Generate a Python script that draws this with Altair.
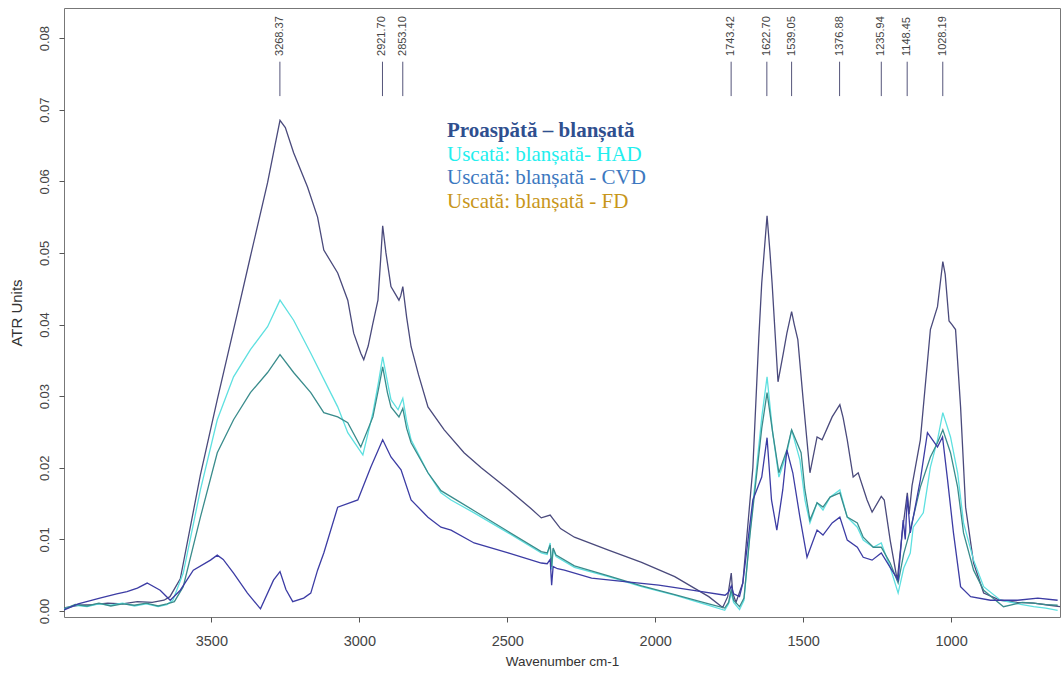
import altair as alt
import pandas as pd

# ---- spectra: wavenumber (cm-1) and absorbance (ATR units) per sample ----
fresh_wn = [4000, 3950, 3900, 3850, 3800, 3750, 3700, 3660, 3640, 3605, 3537, 3480, 3412, 3368,
            3310, 3285, 3268, 3250, 3222, 3175, 3141, 3120, 3073, 3039, 3019, 2995, 2985, 2970,
            2955, 2937, 2928, 2921, 2910, 2893, 2866, 2860, 2853, 2840, 2825, 2800, 2768, 2713,
            2646, 2588, 2497, 2420, 2385, 2355, 2344, 2320, 2273, 2158, 2046, 1934, 1819, 1772,
            1755, 1743, 1738, 1727, 1704, 1670, 1650, 1640, 1622, 1612, 1605, 1585, 1567, 1555,
            1539, 1530, 1518, 1500, 1477, 1453, 1436, 1402, 1376, 1365, 1351, 1331, 1314, 1284,
            1267, 1236, 1226, 1206, 1182, 1165, 1148, 1142, 1132, 1104, 1070, 1046, 1028, 1020,
            1007, 997, 985, 968, 951, 924, 890, 833, 777, 721, 667, 632]
fresh_val = [0.0004, 0.0008, 0.0009, 0.0011, 0.0010, 0.0013, 0.0012, 0.0015, 0.0020, 0.0045,
             0.0190, 0.0295, 0.0416, 0.0495, 0.0598, 0.0650, 0.0685, 0.0675, 0.0640, 0.0592,
             0.0550, 0.0504, 0.0472, 0.0434, 0.0388, 0.0360, 0.0351, 0.0370, 0.0400, 0.0434,
             0.0490, 0.0538, 0.0500, 0.0453, 0.0434, 0.0440, 0.0453, 0.0410, 0.0369, 0.0330,
             0.0285, 0.0253, 0.0221, 0.0200, 0.0170, 0.0143, 0.0130, 0.0134, 0.0128, 0.0115,
             0.0103, 0.0085, 0.0068, 0.0048, 0.0020, 0.0005, 0.0020, 0.0053, 0.0025, 0.0012,
             0.0039, 0.0200, 0.0380, 0.0458, 0.0552, 0.0500, 0.0458, 0.0320, 0.0360, 0.0388,
             0.0418, 0.0400, 0.0379, 0.0295, 0.0193, 0.0243, 0.0239, 0.0271, 0.0288, 0.0270,
             0.0239, 0.0187, 0.0193, 0.0155, 0.0138, 0.0160, 0.0155, 0.0099, 0.0043, 0.0110,
             0.0165, 0.0135, 0.0175, 0.0239, 0.0393, 0.0425, 0.0488, 0.0470, 0.0405, 0.0400,
             0.0393, 0.0285, 0.0145, 0.0067, 0.0025, 0.0015, 0.0012, 0.0011, 0.0008, 0.0006]

had_wn = [4000, 3960, 3920, 3880, 3840, 3800, 3760, 3720, 3680, 3650, 3630, 3595, 3537, 3480,
          3425, 3368, 3310, 3268, 3222, 3164, 3107, 3073, 3039, 2988, 2954, 2935, 2921, 2905,
          2893, 2869, 2853, 2840, 2825, 2768, 2724, 2690, 2612, 2497, 2385, 2365, 2355, 2350,
          2345, 2335, 2273, 2158, 2046, 1934, 1819, 1765, 1752, 1743, 1735, 1715, 1700, 1680,
          1640, 1622, 1603, 1582, 1555, 1539, 1511, 1494, 1477, 1453, 1433, 1409, 1376, 1351,
          1317, 1297, 1263, 1236, 1206, 1179, 1160, 1138, 1128, 1094, 1070, 1046, 1028, 1002,
          978, 958, 924, 890, 833, 760, 721, 680, 640]
had_val = [0.0003, 0.0008, 0.0006, 0.0010, 0.0008, 0.0011, 0.0007, 0.0010, 0.0006, 0.0009,
           0.0015, 0.0053, 0.0169, 0.0267, 0.0327, 0.0365, 0.0397, 0.0434, 0.0406, 0.0360,
           0.0313, 0.0285, 0.0249, 0.0218, 0.0277, 0.0320, 0.0355, 0.0320, 0.0295, 0.0281,
           0.0297, 0.0265, 0.0239, 0.0193, 0.0165, 0.0155, 0.0137, 0.0109, 0.0081, 0.0079,
           0.0095, 0.0058, 0.0086, 0.0076, 0.0061, 0.0048, 0.0034, 0.0022, 0.0008, 0.0001,
           0.0010, 0.0025, 0.0012, 0.0002, 0.0015, 0.0109, 0.0270, 0.0327, 0.0249, 0.0187,
           0.0221, 0.0253, 0.0211, 0.0155, 0.0123, 0.0151, 0.0141, 0.0159, 0.0169, 0.0131,
           0.0117, 0.0099, 0.0089, 0.0095, 0.0061, 0.0025, 0.0060, 0.0081, 0.0117, 0.0137,
           0.0201, 0.0239, 0.0277, 0.0243, 0.0193, 0.0123, 0.0071, 0.0034, 0.0015, 0.0009,
           0.0006, 0.0004, 0.0001]

cvd_wn = [4000, 3960, 3920, 3880, 3840, 3800, 3760, 3720, 3680, 3650, 3625, 3595, 3537, 3480,
          3425, 3368, 3310, 3268, 3222, 3164, 3120, 3073, 3039, 2995, 2954, 2935, 2921, 2905,
          2893, 2866, 2853, 2840, 2825, 2768, 2724, 2612, 2497, 2385, 2365, 2355, 2350, 2345,
          2335, 2273, 2158, 2046, 1934, 1819, 1765, 1752, 1743, 1735, 1715, 1700, 1680, 1640,
          1622, 1603, 1582, 1555, 1539, 1507, 1494, 1477, 1453, 1433, 1409, 1376, 1351, 1317,
          1297, 1263, 1236, 1206, 1179, 1160, 1138, 1104, 1070, 1046, 1028, 1002, 978, 958,
          924, 890, 823, 760, 721, 680, 640]
cvd_val = [0.0002, 0.0009, 0.0007, 0.0011, 0.0007, 0.0010, 0.0008, 0.0011, 0.0007, 0.0010,
           0.0013, 0.0034, 0.0131, 0.0221, 0.0267, 0.0305, 0.0333, 0.0358, 0.0333, 0.0305,
           0.0277, 0.0271, 0.0263, 0.0229, 0.0271, 0.0310, 0.0341, 0.0305, 0.0285, 0.0271,
           0.0283, 0.0255, 0.0235, 0.0193, 0.0168, 0.0140, 0.0111, 0.0083, 0.0081, 0.0092,
           0.0062, 0.0088, 0.0078, 0.0063, 0.0049, 0.0035, 0.0023, 0.0010, 0.0004, 0.0012,
           0.0030, 0.0015, 0.0006, 0.0018, 0.0105, 0.0255, 0.0305, 0.0249, 0.0193, 0.0225,
           0.0253, 0.0221, 0.0169, 0.0127, 0.0151, 0.0145, 0.0159, 0.0165, 0.0131, 0.0123,
           0.0103, 0.0089, 0.0089, 0.0067, 0.0039, 0.0080, 0.0113, 0.0173, 0.0215, 0.0235,
           0.0253, 0.0221, 0.0173, 0.0109, 0.0057, 0.0029, 0.0006, 0.0012, 0.0011, 0.0009,
           0.0008]

fd_wn = [4000, 3950, 3877, 3820, 3785, 3750, 3717, 3673, 3639, 3605, 3561, 3503, 3480, 3460,
         3425, 3378, 3334, 3290, 3268, 3248, 3225, 3188, 3164, 3141, 3120, 3073, 3005, 2961,
         2921, 2893, 2859, 2825, 2768, 2724, 2690, 2612, 2497, 2385, 2365, 2355, 2350, 2345,
         2330, 2307, 2215, 2103, 1988, 1876, 1764, 1752, 1743, 1735, 1715, 1704, 1670, 1640,
         1622, 1607, 1589, 1569, 1555, 1535, 1511, 1487, 1453, 1433, 1402, 1376, 1351, 1317,
         1297, 1267, 1236, 1206, 1179, 1162, 1155, 1148, 1138, 1104, 1080, 1046, 1029, 1012,
         992, 968, 934, 867, 775, 707, 640]
fd_val = [0.0001, 0.0010, 0.0018, 0.0024, 0.0027, 0.0032, 0.0039, 0.0029, 0.0015, 0.0029,
          0.0057, 0.0071, 0.0078, 0.0072, 0.0053, 0.0025, 0.0003, 0.0043, 0.0055, 0.0030,
          0.0013, 0.0018, 0.0025, 0.0057, 0.0081, 0.0145, 0.0155, 0.0201, 0.0239, 0.0215,
          0.0197, 0.0155, 0.0131, 0.0117, 0.0113, 0.0095, 0.0081, 0.0067, 0.0066, 0.0072,
          0.0036, 0.0062, 0.0059, 0.0057, 0.0046, 0.0041, 0.0036, 0.0029, 0.0022, 0.0026,
          0.0035, 0.0024, 0.0020, 0.0039, 0.0155, 0.0187, 0.0242, 0.0155, 0.0113, 0.0169,
          0.0225, 0.0193, 0.0131, 0.0075, 0.0113, 0.0106, 0.0123, 0.0131, 0.0099, 0.0089,
          0.0075, 0.0071, 0.0081, 0.0061, 0.0043, 0.0127, 0.0100, 0.0160, 0.0109, 0.0183,
          0.0249, 0.0229, 0.0243, 0.0183, 0.0109, 0.0034, 0.0020, 0.0015, 0.0015, 0.0018,
          0.0015]

series_names = ["Proaspătă – blanșată", "Uscată: blanșată- HAD",
                "Uscată: blanșată - CVD", "Uscată: blanșată - FD"]
line_colors = ["#4a4a7c", "#5ee0e0", "#3a8c8c", "#3c3ca4"]
legend_colors = ["#2f4f8f", "#22eeee", "#3c78c0", "#c8961a"]
legend_weights = ["bold", "normal", "normal", "normal"]

# labelled absorption bands
peak_wn = [3268.37, 2921.70, 2853.10, 1743.42, 1622.70, 1539.05, 1376.88, 1235.94, 1148.45, 1028.19]

x_ticks = [3500, 3000, 2500, 2000, 1500, 1000]
y_ticks = [0.0, 0.01, 0.02, 0.03, 0.04, 0.05, 0.06, 0.07, 0.08]

# ---- tables ----
frames = []
for name, wn, val in zip(series_names,
                         [fresh_wn, had_wn, cvd_wn, fd_wn],
                         [fresh_val, had_val, cvd_val, fd_val]):
    frames.append(pd.DataFrame({"wn": wn, "val": val, "sample": name}))
spectra = pd.concat(frames, ignore_index=True)

peaks = pd.DataFrame({"wn": peak_wn, "label": [f"{p:.2f}" for p in peak_wn]})

x_scale = alt.Scale(domain=[632, 3998], reverse=True, nice=False, zero=False)
y_scale = alt.Scale(domain=[-0.00084, 0.0842], nice=False, zero=False)

lines = alt.Chart(spectra).mark_line(strokeWidth=1.3, clip=True).encode(
    x=alt.X("wn:Q", scale=x_scale,
            axis=alt.Axis(title="Wavenumber cm-1", values=x_ticks, format="d")),
    y=alt.Y("val:Q", scale=y_scale,
            axis=alt.Axis(title="ATR Units", values=y_ticks, format=".2f",
                          labelAngle=270, labelAlign="center", labelBaseline="bottom")),
    color=alt.Color("sample:N", scale=alt.Scale(domain=series_names, range=line_colors),
                    legend=None),
    detail="sample:N",
)

markers = alt.Chart(peaks).mark_rule(color="#55557a", strokeWidth=1).encode(
    x=alt.X("wn:Q", scale=x_scale),
    y=alt.datum(0.0719),
    y2=alt.datum(0.0767),
)

marker_labels = alt.Chart(peaks).mark_text(
    angle=270, align="left", baseline="middle", fontSize=11,
    font="Liberation Sans", color="#444444",
).encode(
    x=alt.X("wn:Q", scale=x_scale),
    y=alt.datum(0.0775),
    text="label:N",
)

# sample key written as coloured text lines inside the plot
legend_rows = []
for i, (name, col, weight) in enumerate(zip(series_names, legend_colors, legend_weights)):
    legend_rows.append(
        alt.Chart(pd.DataFrame({"sample": [name]})).mark_text(
            align="left", baseline="alphabetic", fontSize=21,
            font="Liberation Serif", fontWeight=weight, color=col,
        ).encode(
            x=alt.value(383),
            y=alt.value(129 + i * 23.6),
            text="sample:N",
        )
    )

chart = alt.layer(lines, markers, marker_labels, *legend_rows).properties(
    width=996, height=609,
    padding={"left": 64, "top": 8, "right": 1, "bottom": 56},
    autosize=alt.AutoSizeParams(type="none"),
).configure_view(
    stroke="#777777", strokeWidth=1
).configure_axis(
    grid=False, domain=False, tickColor="#555555", tickSize=5,
    labelColor="#444444", labelFont="Liberation Sans",
    titleColor="#333333", titleFont="Liberation Sans",
    titleFontWeight="normal",
).configure_axisX(
    labelFontSize=14.5, titleFontSize=13.5, labelPadding=12, titlePadding=7,
).configure_axisY(
    labelFontSize=13, titleFontSize=15, labelPadding=8, titlePadding=14,
)

chart.save("out.html", embed_options={"renderer": "svg", "actions": False})
